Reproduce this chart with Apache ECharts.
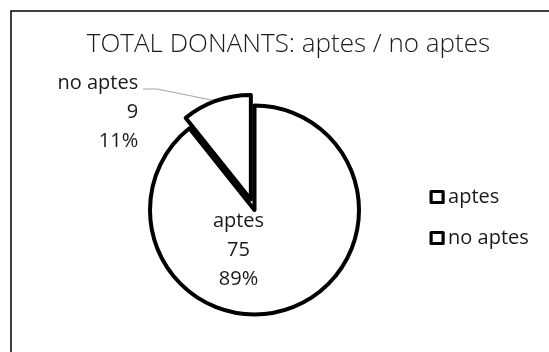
<!DOCTYPE html>
<html>
<head>
<meta charset="utf-8">
<script src="https://cdn.jsdelivr.net/npm/echarts@6/dist/echarts.min.js"></script>
<style>
  html, body { margin: 0; padding: 0; background: #fff; }
  #chart { width: 549px; height: 352px; }
</style>
</head>
<body>
<div id="chart"></div>
<script>
// Donor totals: suitable vs not suitable
const categories = ['aptes', 'no aptes'];
const values = [75, 9];
const titleText = 'TOTAL DONANTS: aptes / no aptes';

const FONT = '"Open Sans", Lato, sans-serif';
const TEXT = '#1a1a1a';
const PULL = 11;          // how far the small slice is pulled out
const START_ANGLE = 90;

const chart = echarts.init(document.getElementById('chart'), null, { renderer: 'canvas' });

// direction in which the pulled-out slice moves (screen coords)
const total = values.reduce((a, b) => a + b, 0);
const before = values.slice(0, 1).reduce((a, b) => a + b, 0);
const midDeg = START_ANGLE - (before + values[1] / 2) / total * 360;
const pullDx = PULL * Math.cos(midDeg * Math.PI / 180);
const pullDy = -PULL * Math.sin(midDeg * Math.PI / 180);

const data = categories.map((name, i) => {
  const item = { name: name, value: values[i] };
  if (i === 0) {
    // big slice: label sits just below the centre
    item.label = { position: 'center', offset: [-16, 40] };
    item.labelLine = { show: false };
  } else {
    // small slice is pulled out; its label block sits up-left of the pie
    item.selected = true;
    item.label = { position: 'outside' };
    item.labelLine = { show: true, length: -11.7, length2: 77 };
  }
  return item;
});

chart.setOption({
  animation: false,
  backgroundColor: '#fff',
  graphic: [{
    type: 'rect',
    shape: { x: 11, y: 11, width: 600, height: 400 },
    style: { fill: 'none', stroke: '#000', lineWidth: 1.5 },
    silent: true,
    z: -1
  }],
  title: {
    text: titleText,
    left: 283.5,
    textAlign: 'center',
    top: 27,
    textStyle: { fontFamily: FONT, fontSize: 26, fontWeight: 300, color: TEXT }
  },
  legend: {
    orient: 'vertical',
    left: 424.5,
    top: 182,
    itemWidth: 12,
    itemHeight: 11,
    itemGap: 21,
    icon: 'rect',
    itemStyle: { color: '#fff', borderColor: '#000', borderWidth: 3.2 },
    textStyle: { fontFamily: FONT, fontSize: 20, lineHeight: 20, color: TEXT },
    data: categories
  },
  series: [{
    type: 'pie',
    center: [254.5, 210],
    radius: 104.5,
    startAngle: START_ANGLE,
    clockwise: true,
    selectedMode: 'single',
    selectedOffset: PULL,
    percentPrecision: 0,
    avoidLabelOverlap: false,
    itemStyle: { color: '#fff', borderColor: '#000', borderWidth: 4 },
    label: {
      formatter: '{b}\n{c}\n{d}%',
      fontFamily: FONT,
      fontSize: 20,
      lineHeight: 29,
      color: TEXT,
      align: 'center'
    },
    labelLine: {
      lineStyle: { color: '#a6a6a6', width: 1.2 }
    },
    labelLayout: function (params) {
      if (params.dataIndex !== 1 || !params.labelLinePoints) return {};
      // leader line: from the slice edge, slanting up-left, then a short level run
      // (points are given before the slice's pull-out shift is applied)
      const start = params.labelLinePoints[0];
      return {
        labelLinePoints: [
          start,
          [157 - pullDx, 89 - pullDy],
          [143 - pullDx, 89 - pullDy]
        ]
      };
    },
    emphasis: { disabled: true },
    data: data
  }]
});
</script>
</body>
</html>
